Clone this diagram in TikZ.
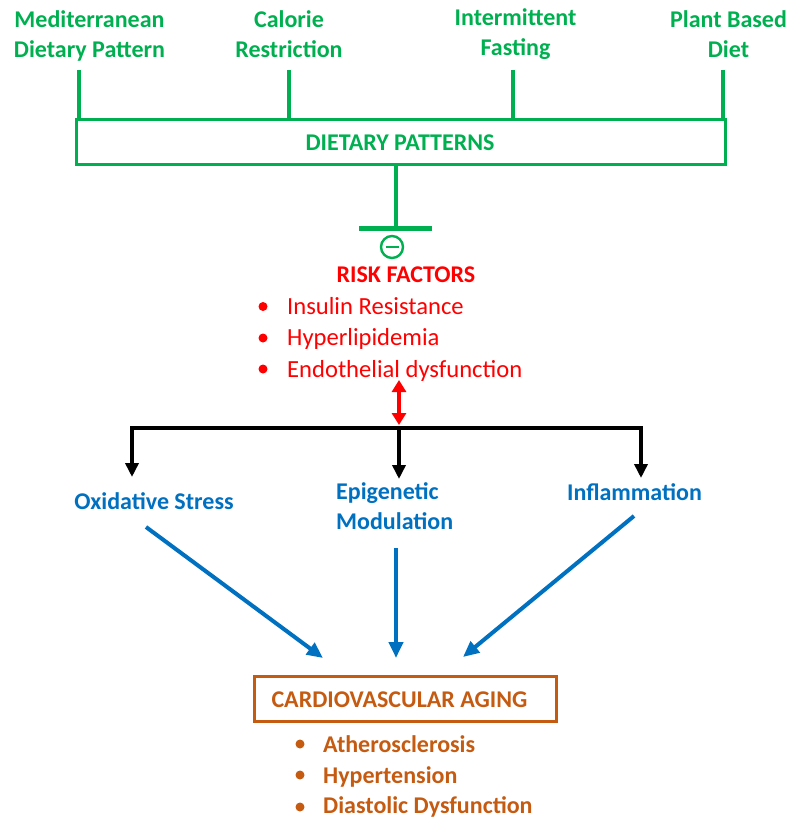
\documentclass[tikz,border=0pt]{standalone}
\usepackage{fontspec}
\setmainfont{Carlito}
\usetikzlibrary{%
  arrows.meta,
  calc,
  positioning
}
\definecolor{dietgreen}{RGB}{0,176,80}
\definecolor{riskred}{RGB}{255,0,0}
\definecolor{mechblue}{RGB}{0,112,192}
\definecolor{agingbrown}{RGB}{197,90,17}
\newcommand{\labelsize}{\fontsize{24}{30}\selectfont}

\begin{document}
\begin{tikzpicture}[x=1pt, y=-1pt,
    every node/.style={inner sep=0pt},
    diet/.style={text=dietgreen, font=\labelsize\bfseries, align=center},
    riskitem/.style={text=riskred, font=\fontsize{24.6}{30}\selectfont},
    mech/.style={text=mechblue, font=\labelsize\bfseries},
    aging/.style={text=agingbrown, font=\labelsize\bfseries},
    dot/.style={circle, fill, minimum size=9pt},
    greenline/.style={dietgreen, line width=4pt},
    forkarrow/.style={black, line width=4pt, -{Triangle[length=14pt,width=13pt]}},
    mecharrow/.style={mechblue, line width=4pt, -{Triangle[length=16pt,width=14pt]}}
  ]
    \useasboundingbox (0,0) rectangle (792,820);

    % dietary patterns (base = last line)
    \node[diet, anchor=base] (med) at (89.5,57.5) {Mediterranean\\Dietary Pattern};
    \node[diet, anchor=base] (cal) at (289,57) {Calorie\\Restriction};
    \node[diet, anchor=base] (fast) at (515.5,55) {Intermittent\\Fasting};
    \node[diet, anchor=base] (plant) at (728.5,57) {Plant Based\\Diet};

    \node[draw=dietgreen, line width=3pt, minimum width=649pt, minimum height=44.5pt]
      (dp) at (400.5,141.75) {};
    \node[diet, anchor=base] (dptext) at (400,150) {DIETARY PATTERNS};

    \coordinate (med-foot) at (79,70);
    \coordinate (cal-foot) at (289,70);
    \coordinate (fast-foot) at (513,70);
    \coordinate (plant-foot) at (723,70);
    \draw[greenline] (med-foot) -- (med-foot |- dp.north);
    \draw[greenline] (cal-foot) -- (cal-foot |- dp.north);
    \draw[greenline] (fast-foot) -- (fast-foot |- dp.north);
    \draw[greenline] (plant-foot) -- (plant-foot |- dp.north);

    % inhibition
    \coordinate (inh) at (396,228);
    \draw[greenline] (inh |- dp.south) -- (inh);
    \draw[dietgreen, line width=5pt] ($(inh)+(-37,0)$) -- ($(inh)+(36,0)$);
    \node[circle, draw=dietgreen, line width=2.4pt, minimum size=22pt] (minus) at (392,247) {};
    \draw[dietgreen, line width=2.4pt] ($(minus.center)+(-6.5,0)$) -- ($(minus.center)+(6.5,0)$);

    % risk factors
    \node[text=riskred, font=\labelsize\bfseries, anchor=base] (rf) at (406,282) {RISK FACTORS};
    \node[dot, riskred] (rd1) at (263,306.5) {};
    \node[dot, riskred] (rd2) at (263,338) {};
    \node[dot, riskred] (rd3) at (263,369) {};
    \node[riskitem, anchor=base west] (ri1) at (287,314) {Insulin Resistance};
    \node[riskitem, anchor=base west] (ri2) at (287,345.5) {Hyperlipidemia};
    \node[riskitem, anchor=base west] (ri3) at (287,377) {Endothelial dysfunction};

    % fork
    \coordinate (fork-l) at (132,428);
    \coordinate (fork-m) at (399,428);
    \coordinate (fork-r) at (641,428);
    \coordinate (rf-low) at (399,380);
    \draw[riskred, line width=3.5pt,
      {Triangle[length=12pt,width=14pt]}-{Triangle[length=12pt,width=14pt]}]
      (rf-low) -- ($(fork-m)+(0,-3)$);
    \draw[black, line width=4pt] ($(fork-l)+(-2,0)$) -- ($(fork-r)+(2,0)$);

    % mechanisms
    \node[mech, anchor=base] (ox) at (154,509) {Oxidative Stress};
    \node[mech, anchor=base west, align=left] (epi) at (336,529) {Epigenetic\\Modulation};
    \node[mech, anchor=base] (infl) at (634.5,500) {Inflammation};

    \coordinate (ox-tip) at (132,477);
    \coordinate (epi-tip) at (399,479);
    \coordinate (infl-tip) at (641,478);
    \draw[forkarrow] (fork-l) -- (ox-tip);
    \draw[forkarrow] (fork-m) -- (epi-tip);
    \draw[forkarrow] (fork-r) -- (infl-tip);

    % cardiovascular aging
    \node[draw=agingbrown, line width=3pt, minimum width=302pt, minimum height=45pt]
      (cva) at (405.5,699) {};
    \node[aging, anchor=base] (cvatext) at (399.5,707) {CARDIOVASCULAR AGING};

    \coordinate (ox-out) at (146,527);
    \coordinate (epi-out) at (396,548);
    \coordinate (infl-out) at (634,516);
    \draw[mecharrow] (ox-out) -- (323,658);
    \draw[mecharrow] (epi-out) -- (396,658);
    \draw[mecharrow] (infl-out) -- (463,657);

    \node[dot, agingbrown] (ad1) at (300,744) {};
    \node[dot, agingbrown] (ad2) at (300,775) {};
    \node[dot, agingbrown] (ad3) at (300,807) {};
    \node[aging, anchor=base west] (ai1) at (323,752) {Atherosclerosis};
    \node[aging, anchor=base west] (ai2) at (323,783) {Hypertension};
    \node[aging, anchor=base west] (ai3) at (323,813.5) {Diastolic Dysfunction};

\end{tikzpicture}
\end{document}
